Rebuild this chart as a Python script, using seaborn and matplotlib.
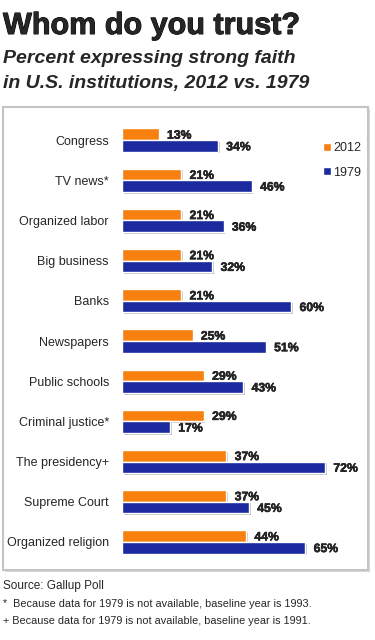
import numpy as np
import pandas as pd
import matplotlib
matplotlib.use('Agg')
import matplotlib.pyplot as plt
import matplotlib.patheffects as pe
from matplotlib.patches import Rectangle
import seaborn as sns

# Data
institutions = ["Congress", "TV news*", "Organized labor", "Big business", "Banks",
                "Newspapers", "Public schools", "Criminal justice*", "The presidency+",
                "Supreme Court", "Organized religion"]
pct_2012 = [13, 21, 21, 21, 21, 25, 29, 29, 37, 37, 44]
pct_1979 = [34, 46, 36, 32, 60, 51, 43, 17, 72, 45, 65]
years = ["2012", "1979"]
colors = ["#F7800F", "#1B2A9E"]

df = pd.DataFrame({
    "institution": institutions * 2,
    "pct": pct_2012 + pct_1979,
    "year": [years[0]] * len(institutions) + [years[1]] * len(institutions),
})

sns.set_style("white")
plt.rcParams['font.family'] = ['Liberation Sans', 'DejaVu Sans']

W, H = 375, 640
fig = plt.figure(figsize=(W / 100, H / 100), dpi=100)

# grey panel frame with a soft shadow
fig.patches.append(Rectangle((5 / W, 1 - 572 / H), 365 / W, 463 / H, transform=fig.transFigure,
                             facecolor="#d8d8d8", edgecolor="none", zorder=0))
fig.patches.append(Rectangle((3 / W, 1 - 570 / H), 365 / W, 463 / H, transform=fig.transFigure,
                             facecolor="white", edgecolor="#c4c4c4", linewidth=1.5, zorder=0))

ax = fig.add_axes([122 / W, 1 - 570 / H, 243 / W, 463 / H])
ax.set_zorder(2)
ax.patch.set_alpha(0)
sns.barplot(data=df, x="pct", y="institution", hue="year", hue_order=years,
            palette=colors, width=0.58, orient="h", ax=ax, saturation=1)

for bars in ax.containers:
    for p in bars:
        p.set_path_effects([pe.SimplePatchShadow(offset=(1.2, -1.2), alpha=0.25), pe.Normal()])
    labels = ax.bar_label(bars, fmt="%d%%", padding=6, fontsize=8.8, fontweight="bold")
    for t in labels:
        t.set_path_effects([pe.withStroke(linewidth=0.35, foreground="black")])
        t.set_y(-1)

ax.set_xlim(0, 243 / 2.82)
ax.set_ylim(10.7, -0.825)
ax.set_xlabel("")
ax.set_ylabel("")
ax.set_xticks([])
ax.tick_params(axis="y", length=0, pad=9.4, labelsize=9)
sns.despine(ax=ax, left=True, bottom=True)

ax.legend(loc="upper left", bbox_to_anchor=(317 / W, 1 - 136 / H),
          bbox_transform=fig.transFigure, frameon=False,
          handlelength=0.6, handleheight=0.6, handletextpad=0.2,
          labelspacing=1.0, borderpad=0, fontsize=9)

# titles
fig.text(3 / W, 1 - 34 / H, "Whom do you trust?", fontsize=22, fontweight="bold",
         path_effects=[pe.withStroke(linewidth=0.7, foreground="black")])
fig.text(3 / W, 1 - 63 / H, "Percent expressing strong faith", fontsize=14,
         fontweight="bold", fontstyle="italic")
fig.text(3 / W, 1 - 88 / H, "in U.S. institutions, 2012 vs. 1979", fontsize=14,
         fontweight="bold", fontstyle="italic")

# source and notes
fig.text(3 / W, 1 - 589 / H, "Source: Gallup Poll", fontsize=8.5)
fig.text(3 / W, 1 - 607 / H, "*  Because data for 1979 is not available, baseline year is 1993.",
         fontsize=7.8)
fig.text(3 / W, 1 - 624 / H, "+ Because data for 1979 is not available, baseline year is 1991.",
         fontsize=7.8)

fig.savefig("out.png", dpi=100, facecolor="white")
